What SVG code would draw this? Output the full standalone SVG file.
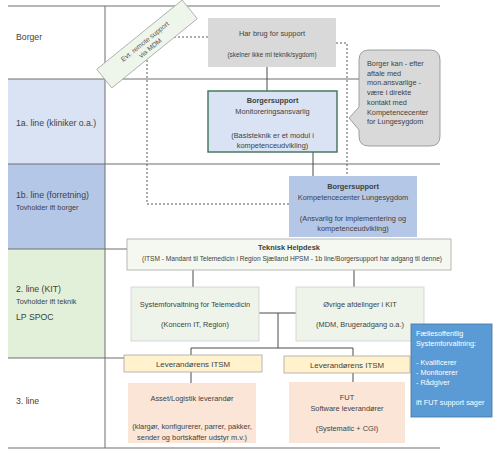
<svg xmlns="http://www.w3.org/2000/svg" width="500" height="458" viewBox="0 0 500 458">
<style>
text{font-family:"Liberation Sans",Arial,sans-serif;fill:#3f3f3f}
.lbl{font-size:8.7px}
.sub{font-size:7.3px}
.t{font-size:7.4px;text-anchor:middle}
.s{font-size:6.4px;text-anchor:middle}
.b{font-weight:bold}
.lane{stroke:#6e6e6e;stroke-width:1;fill:none}
.con{stroke:#4a4a4a;stroke-width:1;fill:none}
.dash{stroke:#595959;stroke-width:1;fill:none;stroke-dasharray:2,2}
.w{fill:#ffffff}
</style>
<rect width="500" height="458" fill="#ffffff"/>
<g id="lanes">
<rect x="8" y="79" width="97" height="85" fill="#dae3f3"/>
<rect x="8" y="164" width="97" height="85" fill="#b4c7e7"/>
<rect x="8" y="249" width="97" height="109" fill="#e2f0d9"/>
<path class="lane" d="M8 6H440M8 79H440M8 164H440M8 249H127M8 358H124M8 448H440M105 6V448"/>
<text class="lbl" x="16" y="40">Borger</text>
<text class="lbl" x="16" y="126">1a. line (kliniker o.a.)</text>
<text class="lbl" x="16" y="198">1b. line (forretning)</text>
<text class="sub" x="16" y="210">Tovholder ift borger</text>
<text class="lbl" x="16" y="292">2. line (KIT)</text>
<text class="sub" x="16" y="304">Tovholder ift teknik</text>
<text class="lbl" x="16" y="320">LP SPOC</text>
<text class="lbl" x="16" y="404">3. line</text>
</g>
<g id="connectors">
<path class="dash" d="M208 37H147V204H289"/>
<path class="dash" d="M336 43H347V176"/>
<path class="con" d="M267 67V91M313 152V176M193 270V287M354 270V287M259 313H296M278 313V348M191 348H353M191 348V355M353 348V356M191 372V383M353 373V382"/>
</g>
<g id="remote">
<g transform="translate(147,44) rotate(-39)">
<rect x="-55" y="-12" width="110" height="24" fill="#eef5ea" stroke="#a6a6a6" stroke-width="0.8"/>
<text class="t" x="0" y="-1" style="font-size:6.8px;fill:#5a5a5a">Evt. remote support</text>
<text class="t" x="0" y="7.5" style="font-size:6.8px;fill:#5a5a5a">via MDM</text>
</g>
</g>
<g id="har-brug">
<rect x="208" y="18" width="128" height="49" fill="#d9d9d9"/>
<text class="t" x="272" y="36">Har brug for support</text>
<text class="s" x="272" y="57">(skelner ikke ml teknik/sygdom)</text>
</g>
<g id="callout">
<path d="M369 50H430Q440 50 440 60V136Q440 146 430 146H369Q359 146 359 136V130L349 118L359 107V60Q359 50 369 50Z" fill="#d9d9d9" stroke="#8c8c8c" stroke-width="0.8"/>
<text class="sub" x="367" y="66">Borger kan  - efter</text>
<text class="sub" x="367" y="75.7">aftale med</text>
<text class="sub" x="367" y="85.4">mon.ansvarlige -</text>
<text class="sub" x="367" y="95.1">være i direkte</text>
<text class="sub" x="367" y="104.8">kontakt med</text>
<text class="sub" x="367" y="114.5">Kompetencecenter</text>
<text class="sub" x="367" y="124.2">for Lungesygdom</text>
</g>
<g id="monitorering">
<rect x="208" y="91" width="129" height="61" fill="#dae3f3" stroke="#3d7356" stroke-width="1.4"/>
<text class="t b" x="272.5" y="103">Borgersupport</text>
<text class="t" x="272.5" y="114">Monitoreringsansvarlig</text>
<text class="t" x="272.5" y="138">(Basisteknik er et modul i</text>
<text class="t" x="272.5" y="148">kompetenceudvikling)</text>
</g>
<g id="kompetencecenter">
<rect x="289" y="176" width="128" height="61" fill="#b4c7e7"/>
<text class="t b" x="353" y="189">Borgersupport</text>
<text class="t" x="353" y="200">Kompetencecenter Lungesygdom</text>
<text class="t" x="353" y="221">(Ansvarlig for implementering og</text>
<text class="t" x="353" y="231">kompetenceudvikling)</text>
</g>
<g id="helpdesk">
<rect x="127" y="239" width="324" height="31" fill="#f4f8f1" stroke="#a6a6a6" stroke-width="0.8"/>
<text class="t b" x="289" y="250">Teknisk Helpdesk</text>
<text class="t" x="292" y="260.5" style="font-size:6.6px">(ITSM - Mandant til Telemedicin i Region Sjælland HPSM - 1b line/Borgersupport har adgang til denne)</text>
</g>
<g id="systemforvaltning">
<rect x="131" y="287" width="128" height="54" fill="#eef4ea" stroke="#d0d0d0" stroke-width="0.8"/>
<text class="t" x="195" y="307">Systemforvaltning for Telemedicin</text>
<text class="t" x="195" y="327">(Koncern IT, Region)</text>
</g>
<g id="ovrige">
<rect x="296" y="287" width="128" height="54" fill="#eef4ea" stroke="#d0d0d0" stroke-width="0.8"/>
<text class="t" x="360" y="307">Øvrige afdelinger i KIT</text>
<text class="t" x="360" y="327">(MDM, Brugeradgang o.a.)</text>
</g>
<g id="itsm-left">
<rect x="124" y="355" width="138" height="17" fill="#fff2cc" stroke="#a6a6a6" stroke-width="0.8"/>
<text class="t" x="193" y="366.8" style="font-size:7.9px">Leverandørens ITSM</text>
</g>
<g id="itsm-right">
<rect x="284" y="356" width="126" height="17" fill="#fff2cc" stroke="#a6a6a6" stroke-width="0.8"/>
<text class="t" x="347" y="367.8" style="font-size:7.9px">Leverandørens ITSM</text>
</g>
<g id="asset">
<rect x="128" y="383" width="128" height="60" fill="#fbe5d6"/>
<text class="t" x="192" y="401">Asset/Logistik leverandør</text>
<text class="t" x="192" y="429">(klargør, konfigurerer, parrer, pakker,</text>
<text class="t" x="192" y="439.5">sender og bortskaffer udstyr m.v.)</text>
</g>
<g id="fut">
<rect x="289" y="382" width="116" height="61" fill="#fbe5d6"/>
<text class="t" x="347" y="400">FUT</text>
<text class="t" x="347" y="411">Software leverandører</text>
<text class="t" x="347" y="431">(Systematic + CGI)</text>
</g>
<g id="faellesoffentlig">
<rect x="411" y="324" width="81" height="93" fill="#5b9bd5" stroke="#41719c" stroke-width="0.8"/>
<text class="sub w" x="416" y="335.5" style="fill:#ffffff">Fællesoffentlig</text>
<text class="sub w" x="416" y="345.5" style="fill:#ffffff">Systemforvaltning:</text>
<text class="sub w" x="416" y="364.5" style="fill:#ffffff">- Kvalificerer</text>
<text class="sub w" x="416" y="374.5" style="fill:#ffffff">- Monitorerer</text>
<text class="sub w" x="416" y="384.5" style="fill:#ffffff">- Rådgiver</text>
<text class="sub w" x="416" y="404.5" style="fill:#ffffff">ift FUT support sager</text>
</g>
</svg>
